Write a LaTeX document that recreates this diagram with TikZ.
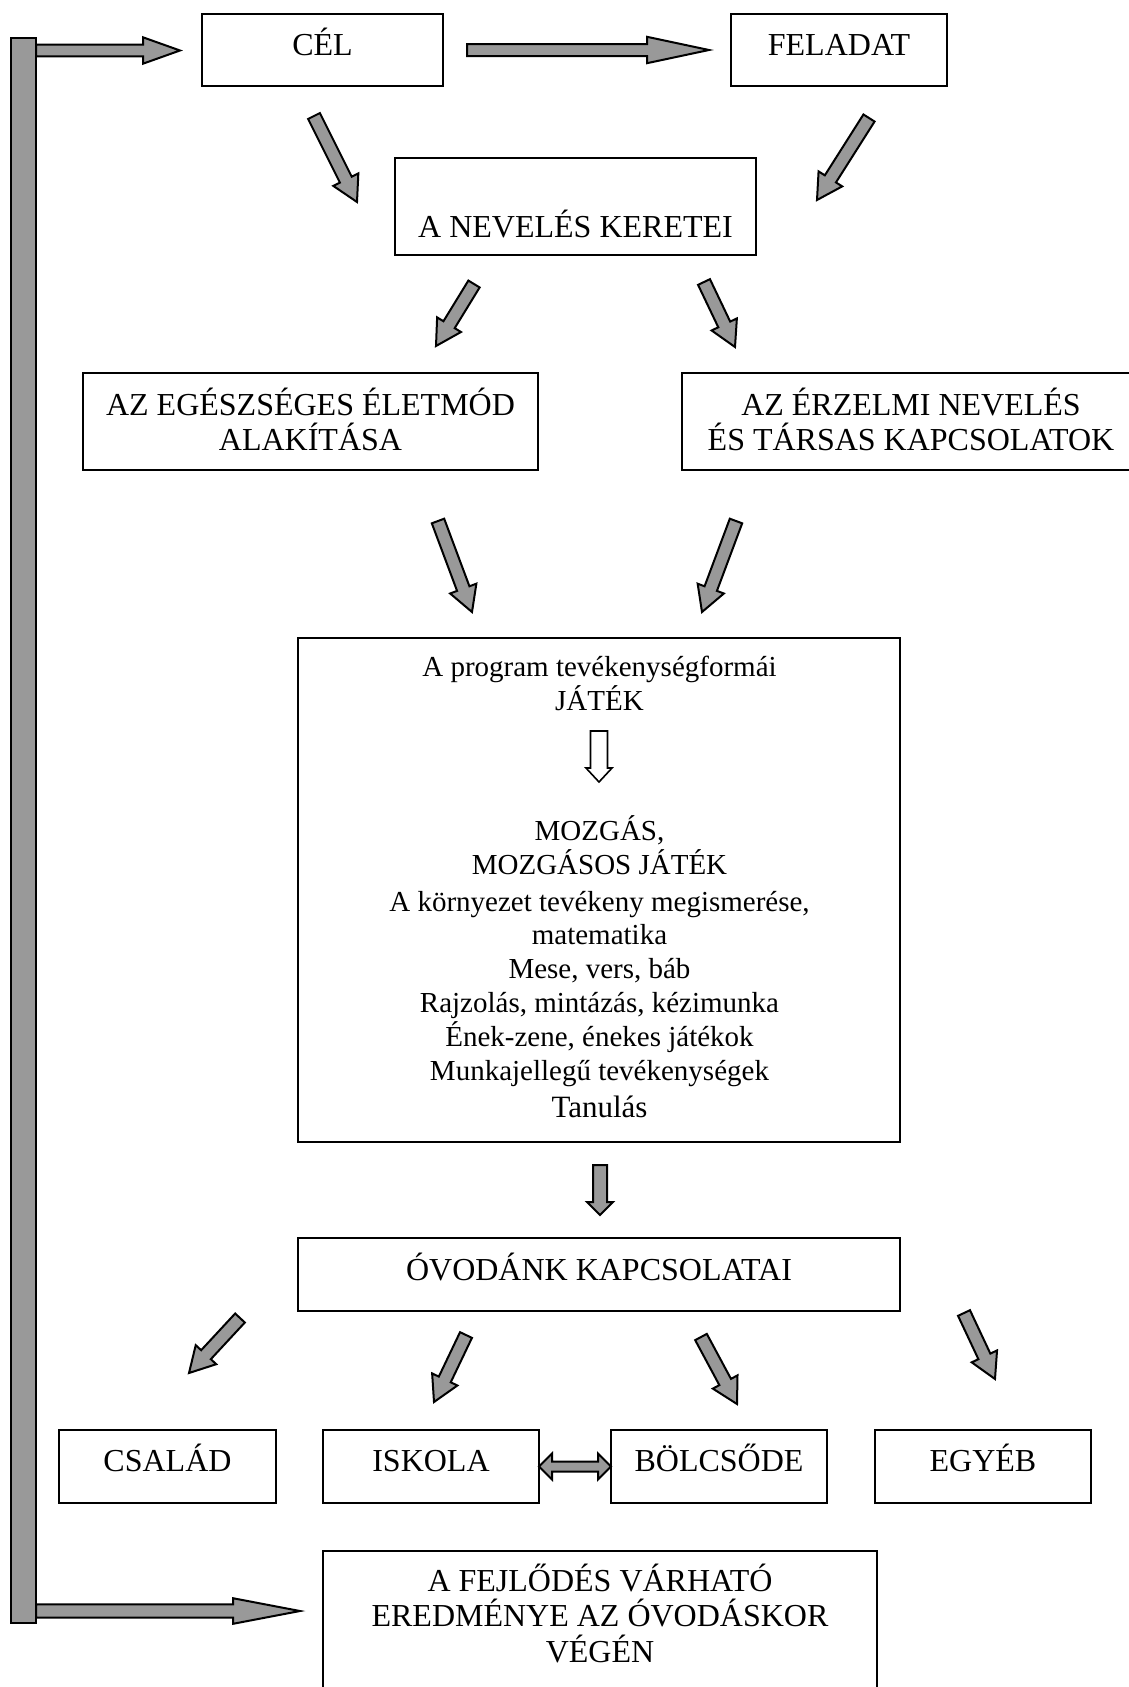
\documentclass[tikz,border=0pt]{standalone}
\usepackage{fontspec}
\setmainfont{Liberation Serif}
\usetikzlibrary{calc}
\definecolor{arrowgray}{RGB}{153,153,153}
\tikzset{
  box/.style={draw=black, line width=0.9pt, rectangle, inner sep=0pt, outer sep=0pt, anchor=north west},
  boxtext/.style={font=\fontsize{16}{17.6}\selectfont, align=center, inner sep=0pt, anchor=base},
  progtext/.style={font=\fontsize{14.5}{16.9}\selectfont, align=center, inner sep=0pt, anchor=base},
  garrow/.style={draw=black, fill=arrowgray, line width=1pt, line join=miter},
  oarrow/.style={draw=black, fill=white, line width=0.8pt, line join=miter},
}
\newcommand{\blockarrow}[6][garrow]{%
  \coordinate (bah) at ($(#3)!#6!(#2)$);
  \draw[#1] ($(#2)!#4!90:(#3)$) -- ($(bah)!#4!-90:(#2)$) -- ($(bah)!#5!-90:(#2)$) -- (#3)
    -- ($(bah)!#5!90:(#2)$) -- ($(bah)!#4!90:(#2)$) -- ($(#2)!#4!-90:(#3)$) -- cycle;
}
\begin{document}
\begin{tikzpicture}[x=0.5pt,y=-0.5pt]
\useasboundingbox (0,0) rectangle (1129,1687);
\fill[white] (0,0) rectangle (1129,1687);

% ---------- boxes ----------
\node[box, minimum width=120.5pt, minimum height=36pt]   (cel)      at (202,14) {};
\node[box, minimum width=108pt,   minimum height=36pt]   (feladat)  at (731,14) {};
\node[box, minimum width=180.5pt, minimum height=48.5pt] (keretek)  at (395,158) {};
\node[box, minimum width=227.5pt, minimum height=48.5pt] (eletmod)  at (83,373) {};
\node[box, minimum width=229pt,   minimum height=48.5pt] (erzelmi)  at (682,373) {};
\node[box, minimum width=301pt,   minimum height=252pt]  (program)  at (298,638) {};
\node[box, minimum width=301pt,   minimum height=36.5pt] (kapcs)    at (298,1238) {};
\node[box, minimum width=108.5pt, minimum height=36.5pt] (csalad)   at (59,1430) {};
\node[box, minimum width=108pt,   minimum height=36.5pt] (iskola)   at (323,1430) {};
\node[box, minimum width=108pt,   minimum height=36.5pt] (bolcsode) at (611,1430) {};
\node[box, minimum width=108pt,   minimum height=36.5pt] (egyeb)    at (875,1430) {};
\node[box, minimum width=277pt,   minimum height=75pt]   (fejlodes) at (323,1551) {};

% ---------- texts (base = baseline of the last line) ----------
\node[boxtext] (cel-t)      at (322.5,55) {CÉL};
\node[boxtext] (feladat-t)  at (839,55) {FELADAT};
\node[boxtext] (keretek-t)  at (575.5,237) {A NEVELÉS KERETEI};
\node[boxtext] (eletmod-t)  at (310.5,450.6) {AZ EGÉSZSÉGES ÉLETMÓD\\ALAKÍTÁSA};
\node[boxtext] (erzelmi-t)  at (911,450.6) {AZ ÉRZELMI NEVELÉS\\ÉS TÁRSAS KAPCSOLATOK};
\node[progtext] (prog-a)    at (599.5,710) {A program tevékenységformái\\JÁTÉK};
\node[progtext] (prog-b)    at (599.5,874) {MOZGÁS,\\MOZGÁSOS JÁTÉK};
\node[progtext] (prog-c)    at (599.5,1080) {A környezet tevékeny megismerése,\\matematika\\Mese, vers, báb\\Rajzolás, mintázás, kézimunka\\Ének-zene, énekes játékok\\Munkajellegű tevékenységek};
\node[progtext, font=\fontsize{15.5}{17}\selectfont] (prog-d) at (599.5,1117) {Tanulás};
\node[boxtext] (kapcs-t)    at (599,1280) {ÓVODÁNK KAPCSOLATAI};
\node[boxtext] (csalad-t)   at (167.5,1471) {CSALÁD};
\node[boxtext] (iskola-t)   at (431,1471) {ISKOLA};
\node[boxtext] (bolcsode-t) at (719,1471) {BÖLCSŐDE};
\node[boxtext] (egyeb-t)    at (983,1471) {EGYÉB};
\node[boxtext, font=\fontsize{16}{17.75}\selectfont] (fejlodes-t) at (600,1662) {A FEJLŐDÉS VÁRHATÓ\\EREDMÉNYE AZ ÓVODÁSKOR\\VÉGÉN};

% ---------- arrow end points ----------
\coordinate (h1s) at (36,50.5);   \coordinate (h1t) at (180,50.5);
\coordinate (h2s) at (467,50);    \coordinate (h2t) at (709,50);
\coordinate (h3s) at (36,1611);   \coordinate (h3t) at (300,1611);
\coordinate (d1s) at (314,116);   \coordinate (d1t) at (357,202);
\coordinate (d2s) at (869,118);   \coordinate (d2t) at (817,200);
\coordinate (d3s) at (474,284);   \coordinate (d3t) at (436,346);
\coordinate (d4s) at (704,282);   \coordinate (d4t) at (735,347);
\coordinate (d5s) at (438,521);   \coordinate (d5t) at (472,612);
\coordinate (d6s) at (736,521);   \coordinate (d6t) at (702,612);
\coordinate (d7s) at (240,1318);  \coordinate (d7t) at (189,1373);
\coordinate (d8s) at (466,1335);  \coordinate (d8t) at (434,1402);
\coordinate (d9s) at (701,1337);  \coordinate (d9t) at (737,1404);
\coordinate (d10s) at (964,1313); \coordinate (d10t) at (995,1379);
\coordinate (vs) at (600,1165);   \coordinate (vt) at (600,1215);
\coordinate (os) at (599,731);    \coordinate (ot) at (599,782);

% ---------- block arrows ----------
\blockarrow{h1s}{h1t}{2.9pt}{6.6pt}{18.5pt}
\blockarrow{h2s}{h2t}{3pt}{6.6pt}{31pt}
\blockarrow{h3s}{h3t}{3.3pt}{6.4pt}{33.5pt}
\blockarrow{d1s}{d1t}{3.3pt}{7pt}{12.5pt}
\blockarrow{d2s}{d2t}{3.3pt}{7pt}{12.5pt}
\blockarrow{d3s}{d3t}{3.3pt}{7pt}{12.5pt}
\blockarrow{d4s}{d4t}{3.3pt}{7pt}{12.5pt}
\blockarrow{d5s}{d5t}{3.3pt}{7pt}{12.5pt}
\blockarrow{d6s}{d6t}{3.3pt}{7pt}{12.5pt}
\blockarrow{d7s}{d7t}{3.3pt}{7pt}{12.5pt}
\blockarrow{d8s}{d8t}{3.3pt}{7pt}{12.5pt}
\blockarrow{d9s}{d9t}{3.3pt}{7pt}{12.5pt}
\blockarrow{d10s}{d10t}{3.3pt}{7pt}{12.5pt}
\blockarrow{vs}{vt}{3.5pt}{6.5pt}{6.5pt}
\blockarrow[oarrow]{os}{ot}{4.25pt}{6.5pt}{7pt}

% double arrow ISKOLA <-> BÖLCSŐDE
\draw[garrow] (iskola.east) -- ++(13,-13) -- ++(0,8) -- ($(bolcsode.west)+(-13,-5)$) -- ++(0,-8)
  -- (bolcsode.west) -- ++(-13,13) -- ++(0,-8) -- ($(iskola.east)+(13,5)$) -- ++(0,8) -- cycle;

% vertical bar
\node[garrow, rectangle, inner sep=0pt, outer sep=0pt, anchor=north west,
      minimum width=12.5pt, minimum height=792.5pt] (bar) at (11,38) {};
\end{tikzpicture}
\end{document}
